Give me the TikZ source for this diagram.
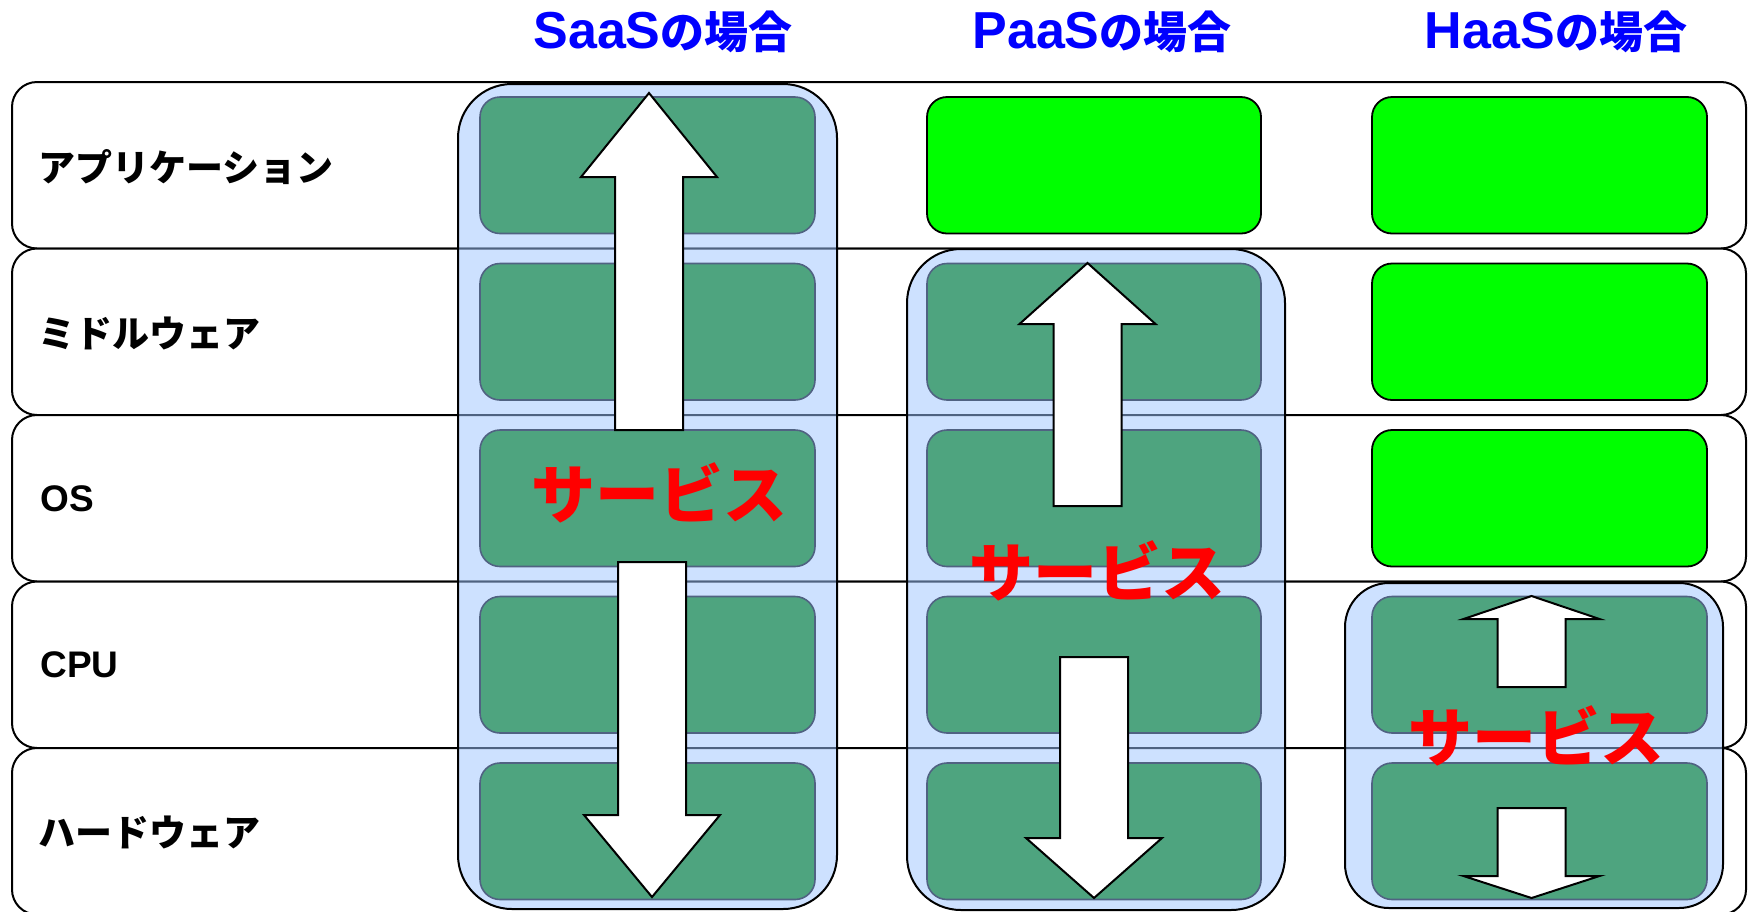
\documentclass[tikz,border=0pt]{standalone}
\usepackage{fontspec}
\setmainfont{Liberation Sans}
\newfontfamily\jp{Noto Sans CJK JP}
\newfontfamily\lat{Liberation Sans}
\definecolor{contblue}{RGB}{157,196,255}
\definecolor{layergreen}{RGB}{78,164,127}
\definecolor{layerline}{RGB}{80,98,130}
\definecolor{owngreen}{RGB}{0,255,0}
\definecolor{titleblue}{RGB}{0,0,255}
\definecolor{svcred}{RGB}{255,0,0}
\tikzset{
  rowband/.style={draw=black, line width=1pt, fill=white, rounded corners=12.5pt},
  cont/.style={draw=black, line width=1pt, fill=contblue, fill opacity=0.5, rounded corners=27pt},
  contsmall/.style={cont, rounded corners=22pt},
  layer/.style={draw=layerline, line width=0.8pt, fill=layergreen, rounded corners=10pt},
  own/.style={draw=black, line width=0.9pt, fill=owngreen, rounded corners=10pt},
  bigarrow/.style={draw=black, line width=1pt, fill=white, line join=miter},
  rowlabel/.style={anchor=west, inner sep=0pt, font=\bfseries\fontsize{18.5pt}{18.5pt}\selectfont},
  coltitle/.style={inner sep=0pt, text=titleblue, font=\bfseries},
  svc/.style={inner sep=0pt, text=svcred, font=\jp\bfseries\fontsize{32pt}{32pt}\selectfont}
}
\newcommand\myUpArrow[4]{% cx, tip y, head base y, bottom y
  \draw[bigarrow] (#1,#2) -- ({#1+68},#3) -- ({#1+34},#3) -- ({#1+34},#4) -- ({#1-34},#4) -- ({#1-34},#3) -- ({#1-68},#3) -- cycle;}
\newcommand\myDownArrow[4]{% cx, top y, head base y, tip y
  \draw[bigarrow] (#1,#4) -- ({#1+68},#3) -- ({#1+34},#3) -- ({#1+34},#2) -- ({#1-34},#2) -- ({#1-34},#3) -- ({#1-68},#3) -- cycle;}
\begin{document}
\begin{tikzpicture}[x=0.5pt, y=-0.5pt]
\useasboundingbox[fill=white] (0,0) rectangle (1748,911);

% titles
\node[coltitle] (tsaas) at (663,32) {{\lat\fontsize{26pt}{26pt}\selectfont SaaS}{\jp\fontsize{22pt}{22pt}\selectfont の場合}};
\node[coltitle] (tpaas) at (1102,32) {{\lat\fontsize{26pt}{26pt}\selectfont PaaS}{\jp\fontsize{22pt}{22pt}\selectfont の場合}};
\node[coltitle] (thaas) at (1556,32) {{\lat\fontsize{26pt}{26pt}\selectfont HaaS}{\jp\fontsize{22pt}{22pt}\selectfont の場合}};

% row bands
\foreach \t in {82,248.5,415,581.5,748}{
  \draw[rowband] (12,\t) rectangle (1746,{\t+166.5});
}

% row labels
\node[rowlabel] (lapp) at (38,167) {\jp アプリケーション};
\node[rowlabel] (lmid) at (38,333) {\jp ミドルウェア};
\node[rowlabel] (los)  at (40,499) {OS};
\node[rowlabel] (lcpu) at (40,665) {CPU};
\node[rowlabel] (lhw)  at (38,832) {\jp ハードウェア};

% service containers
\draw[cont] (458,84) rectangle (837,909);
\draw[cont] (907,249) rectangle (1285,910);
\draw[contsmall] (1345,583) rectangle (1723,908);

% SaaS layers
\foreach \t in {82,248.5,415,581.5,748}{
  \draw[layer] (480,{\t+15}) rectangle (815,{\t+151.5});
}
% PaaS
\draw[own] (927,97) rectangle (1261,233.5);
\foreach \t in {248.5,415,581.5,748}{
  \draw[layer] (927,{\t+15}) rectangle (1261,{\t+151.5});
}
% HaaS
\foreach \t in {82,248.5,415}{
  \draw[own] (1372,{\t+15}) rectangle (1707,{\t+151.5});
}
\foreach \t in {581.5,748}{
  \draw[layer] (1372,{\t+15}) rectangle (1707,{\t+151.5});
}

% arrows
\myUpArrow{649}{93}{177}{430}
\myDownArrow{652}{562}{815}{897}
\myUpArrow{1087.5}{263}{324}{506}
\myDownArrow{1094}{657}{838}{898}
\myUpArrow{1531.5}{596}{619}{687}
\myDownArrow{1531.5}{808}{876}{898}

% service labels
\node[svc] (ssaas) at (659,493) {サービス};
\node[svc] (spaas) at (1097,571) {サービス};
\node[svc] (shaas) at (1536,736) {サービス};
\end{tikzpicture}
\end{document}
